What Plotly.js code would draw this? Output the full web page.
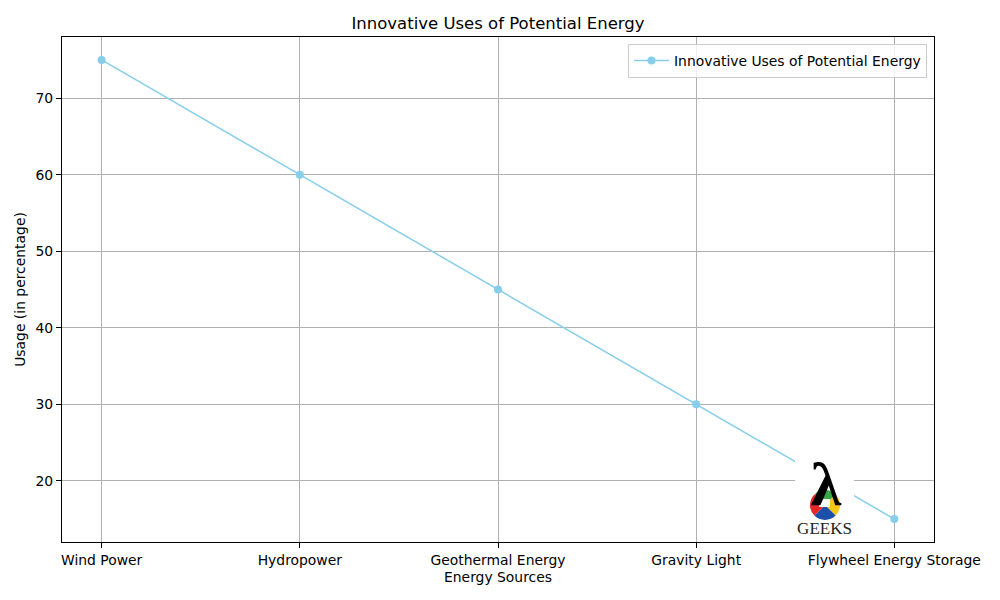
<!DOCTYPE html>
<html>
<head>
<meta charset="utf-8">
<script src="https://cdn.plot.ly/plotly-3.0.1.min.js"></script>
<style>html,body{margin:0;padding:0;background:#fff;}#chart{width:1000px;height:600px;}</style>
</head>
<body>
<div id="chart"></div>
<script>
const categories = ["Wind Power", "Hydropower", "Geothermal Energy", "Gravity Light", "Flywheel Energy Storage"];
const usage = [75, 60, 45, 30, 15];
const seriesName = "Innovative Uses of Potential Energy";
const chartTitle = "Innovative Uses of Potential Energy";
const xTitle = "Energy Sources";
const yTitle = "Usage (in percentage)";
const yTicks = [20, 30, 40, 50, 60, 70];

const FONT = "DejaVu Sans, sans-serif";

const logoSvg = '<svg xmlns="http://www.w3.org/2000/svg" width="59" height="84" viewBox="0 0 59 84">' +
  '<rect x="0" y="0" width="59" height="84" fill="#ffffff"/>' +
  '<path d="M30,48 L19.39,37.39 A15,15 0 0 1 40.61,37.39 Z" fill="#3aa745"/>' +
  '<path d="M30,48 L40.61,37.39 A15,15 0 0 1 40.61,58.61 Z" fill="#f5c518"/>' +
  '<path d="M30,48 L40.61,58.61 A15,15 0 0 1 19.39,58.61 Z" fill="#1c4fa8"/>' +
  '<path d="M30,48 L19.39,58.61 A15,15 0 0 1 19.39,37.39 Z" fill="#e8262a"/>' +
  '<rect x="24" y="42" width="11" height="8" fill="#ffffff"/>' +
  '<text x="31" y="48" text-anchor="middle" font-family="Liberation Serif, DejaVu Serif, serif" font-weight="bold" font-size="62" fill="#000">λ</text>' +
  '<text x="29.5" y="77" text-anchor="middle" font-family="Liberation Serif, DejaVu Serif, serif" font-size="17" fill="#222">GEEKS</text>' +
  '</svg>';

const trace = {
  x: categories,
  y: usage,
  type: "scatter",
  mode: "lines+markers",
  name: seriesName,
  line: {color: "#87CEEB", width: 1.5},
  marker: {color: "#87CEEB", size: 8},
  showlegend: true
};

const layout = {
  width: 1000,
  height: 600,
  paper_bgcolor: "#ffffff",
  plot_bgcolor: "#ffffff",
  margin: {l: 62, r: 66, t: 37, b: 58, pad: 0},
  font: {family: FONT, color: "#000", size: 14},
  title: {
    text: chartTitle,
    font: {family: FONT, size: 16.5, color: "#000"},
    x: 0.5, xref: "paper",
    y: 1 - 23/600, yref: "container", yanchor: "middle"
  },
  xaxis: {
    type: "category",
    range: [-0.2, 4.2],
    showgrid: true, gridcolor: "#b0b0b0", gridwidth: 1,
    showline: true, linecolor: "#000", linewidth: 1, mirror: true,
    ticks: "outside", ticklen: 5, tickcolor: "#000", tickwidth: 1,
    tickfont: {family: FONT, size: 13.9, color: "#000"},
    zeroline: false,
    title: {text: xTitle, font: {family: FONT, size: 13.9, color: "#000"}, standoff: 5}
  },
  yaxis: {
    range: [12, 78],
    tickvals: yTicks,
    ticktext: yTicks.map(String),
    showgrid: true, gridcolor: "#b0b0b0", gridwidth: 1,
    showline: true, linecolor: "#000", linewidth: 1, mirror: true,
    ticks: "outside", ticklen: 5, tickcolor: "#000", tickwidth: 1,
    tickfont: {family: FONT, size: 13.9, color: "#000"},
    zeroline: false,
    title: {text: yTitle, font: {family: FONT, size: 13.9, color: "#000"}, standoff: 6}
  },
  legend: {
    x: (927 - 62) / 872, y: (542 - 44) / 505,
    xanchor: "right", yanchor: "top",
    bgcolor: "rgba(255,255,255,0.8)",
    bordercolor: "#cccccc", borderwidth: 1,
    itemwidth: 35,
    font: {family: FONT, size: 13.9, color: "#000"}
  },
  images: [{
    source: "data:image/svg+xml;charset=utf-8," + encodeURIComponent(logoSvg),
    xref: "paper", yref: "paper",
    x: (795 - 62) / 872, y: (542 - 457) / 505,
    sizex: 59 / 872, sizey: 84 / 505,
    xanchor: "left", yanchor: "top",
    sizing: "stretch", layer: "above"
  }]
};

Plotly.newPlot("chart", [trace], layout, {displayModeBar: false, staticPlot: true});
</script>
</body>
</html>
